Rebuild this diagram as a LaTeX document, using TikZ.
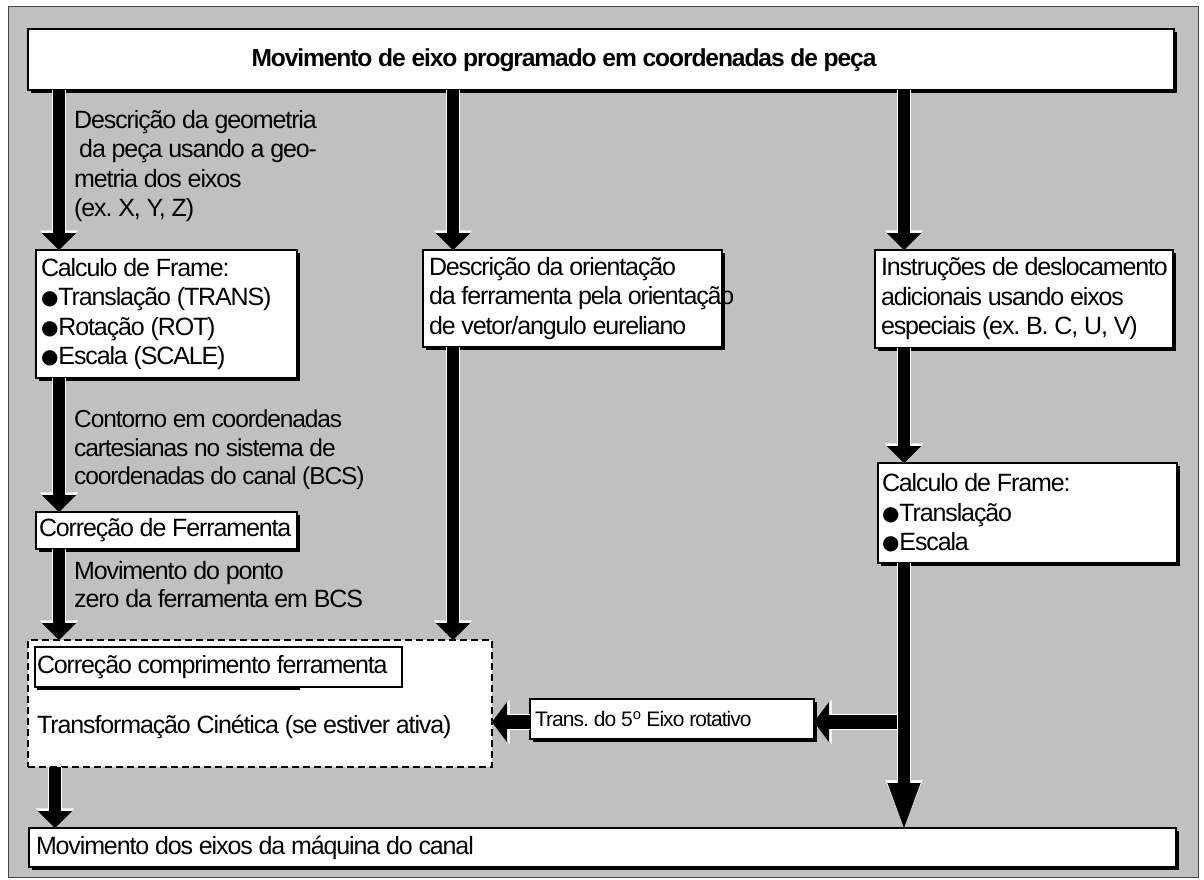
\documentclass[tikz,border=0pt]{standalone}
\usepackage{fontspec}
\setmainfont{Liberation Sans}[LetterSpace=-4.5]
\newfontfamily\bulletfont{DejaVu Sans}
\usetikzlibrary{arrows.meta,shadows,calc}

\definecolor{panelgray}{RGB}{192,192,192}
\definecolor{panelline}{RGB}{70,70,70}

% list bullet
\newcommand\dotmark{\raisebox{1pt}{\bulletfont\fontsize{20}{20}\selectfont ●}}

\tikzset{
  txt/.style={font=\fontsize{25}{29.5}\selectfont\frenchspacing},
  box/.style={draw=black, line width=1.1pt, fill=white, anchor=north west,
    align=flush left, inner ysep=0pt, outer sep=0pt, txt,
    general shadow={fill=black, shadow xshift=3pt, shadow yshift=-3pt}},
  plainbox/.style={draw=black, line width=1.1pt, fill=white, anchor=north west,
    align=flush left, inner ysep=0pt, outer sep=0pt, txt},
  dashbox/.style={draw=black, line width=1.1pt, fill=white, anchor=north west,
    dash pattern=on 7pt off 4pt, inner sep=0pt, outer sep=0pt},
  note/.style={txt, align=left, inner sep=0pt, anchor=west},
  vfat/.style={draw=black, line width=12pt,
    -{Triangle[length=17pt,width=34pt,line width=0.4pt]},
    preaction={draw=white, line width=14.5pt,
      -{Triangle[length=19.5pt,width=38pt,line width=0.4pt]}}},
  longfat/.style={draw=black, line width=12pt,
    -{Triangle[length=45pt,width=33pt,line width=0.4pt]},
    preaction={draw=white, line width=14.5pt,
      -{Triangle[length=48pt,width=37pt,line width=0.4pt]}}},
  hfat/.style={draw=black, line width=14pt,
    -{Triangle[length=15pt,width=40pt,line width=0.4pt]},
    preaction={draw=white, line width=16.5pt,
      -{Triangle[length=17.5pt,width=44pt,line width=0.4pt]}}},
}

\begin{document}
\begin{tikzpicture}[x=1pt,y=-1pt]
\useasboundingbox (0,0) rectangle (1204,879);
\fill[white] (0,0) rectangle (1204,879);
% grey panel behind the flow
\filldraw[fill=panelgray, draw=panelline, line width=1pt] (8,6) rectangle (1198,877);

% header
\node[box, minimum width=1146pt, minimum height=61pt, inner sep=0pt] (top) at (28,29) {};
\node[font=\fontsize{24.6}{29.5}\selectfont\bfseries\frenchspacing, inner sep=0pt] (title) at (564,60)
  {Movimento de eixo programado em coordenadas de peça};

% left column
\node[box, text width=251pt, inner xsep=5pt, minimum height=128pt] (calcL) at (36,250)
  {Calculo de Frame:\\\dotmark Translação (TRANS)\\\dotmark Rotação (ROT)\\\dotmark Escala (SCALE)};
\node[box, text width=255pt, inner xsep=3pt, minimum height=37pt] (corrF) at (36,512)
  {Correção de Ferramenta};

\node[note] (geo) at (74,166)
  {Descrição da geometria\\\hspace*{5pt}da peça usando a geo-\\metria dos eixos\\(ex. X, Y, Z)};
\node[note, font=\fontsize{24.5}{28.5}\selectfont] (cont) at (74,450)
  {Contorno em coordenadas\\cartesianas no sistema de\\coordenadas do canal (BCS)};
\node[note, font=\fontsize{25}{28}\selectfont] (zero) at (74,585)
  {Movimento do ponto\\zero da ferramenta em BCS};

% kinematic block (dashed)
\node[dashbox, minimum width=464pt, minimum height=127pt] (dash) at (28,640) {};
\node[plainbox, text width=363pt, inner xsep=2pt, minimum height=40pt] (inner) at (35,647)
  {Correção comprimento ferramenta};
\fill[black] ($(inner.south west)+(2,0)$) rectangle ($(inner.south west)+(265,3)$);
\node[note] (kin) at (37,727) {Transformação Cinética (se estiver ativa)};

% middle column
\node[box, text width=287pt, inner xsep=6pt, minimum height=97pt] (orient) at (423,250)
  {Descrição da orientação\\\mbox{da ferramenta pela orientação}\\de vetor/angulo eureliano};

% right column
\node[box, text width=286pt, inner xsep=6pt, minimum height=98pt] (instr) at (875,250)
  {\mbox{Instruções de deslocamento}\\adicionais usando eixos\\especiais (ex. B. C, U, V)};
\node[box, text width=291pt, inner xsep=4pt, minimum height=100pt] (calcR) at (878,463)
  {Calculo de Frame:\\\dotmark Translação\\\dotmark Escala};
\node[box, text width=274pt, inner xsep=5pt, minimum height=40pt,
  font=\fontsize{21}{24}\selectfont\frenchspacing] (trans) at (530,699)
  {Trans. do 5\textsuperscript{o} Eixo rotativo};

% machine axes
\node[box, text width=1133pt, inner xsep=7pt, minimum height=39pt] (bottom) at (29,828)
  {Movimento dos eixos da máquina do canal};

% arrow lanes
\coordinate (cxL) at (59,0);
\coordinate (cxB) at (55,0);
\coordinate (cxM) at (453,0);
\coordinate (cxR) at (904,0);
\coordinate (branch) at (904,722);

% connectors
\draw[vfat] (top.south -| cxL) -- (calcL.north -| cxL);
\draw[vfat] (calcL.south -| cxL) -- (corrF.north -| cxL);
\draw[vfat] (corrF.south -| cxL) -- (dash.north -| cxL);
\draw[vfat] (dash.south -| cxB) -- (bottom.north -| cxB);

\draw[vfat] (top.south -| cxM) -- (orient.north -| cxM);
\draw[vfat] (orient.south -| cxM) -- (dash.north -| cxM);

\draw[vfat] (top.south -| cxR) -- (instr.north -| cxR);
\draw[vfat] (instr.south -| cxR) -- (calcR.north -| cxR);
\draw[hfat] (branch) -- (trans.east |- branch);
\draw[hfat] (trans.west |- branch) -- (dash.east |- branch);
\draw[longfat] (calcR.south -| cxR) -- (bottom.north -| cxR);
\end{tikzpicture}
\end{document}
